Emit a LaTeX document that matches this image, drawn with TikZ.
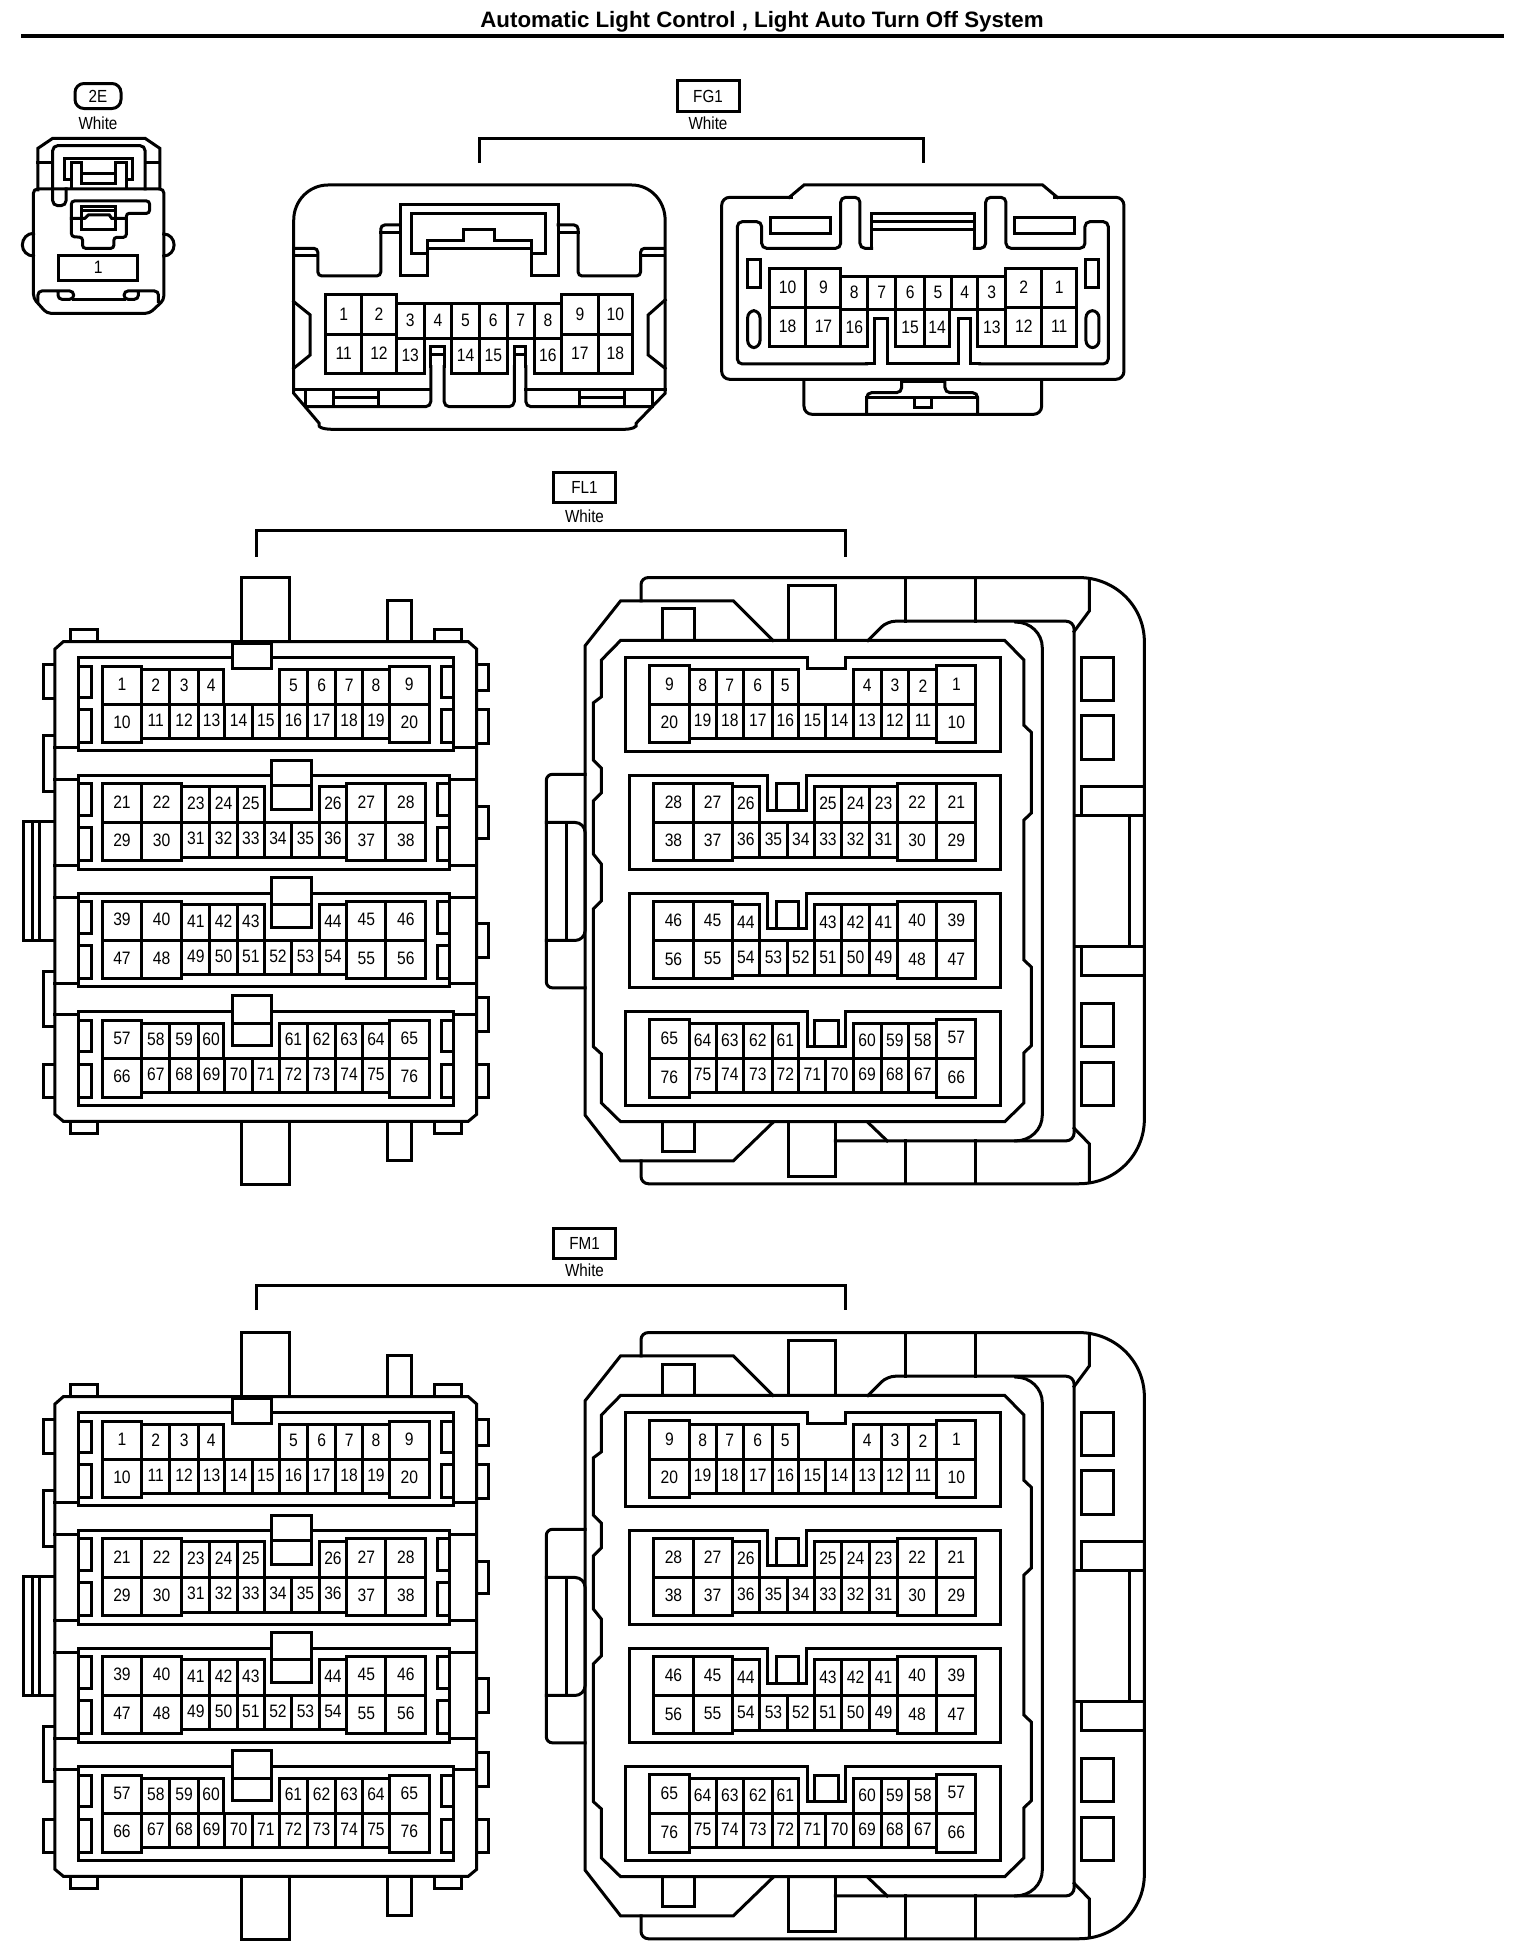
\documentclass[tikz,border=0pt]{standalone}
\usepackage{fontspec}
\setmainfont[FakeStretch=0.87]{Liberation Sans}
\newfontfamily\titlefont{Liberation Sans}
\usetikzlibrary{positioning}

\tikzset{
  wire/.style={line width=3pt, black, line cap=rect},
  pinnum/.style={font=\fontsize{18}{18}\selectfont, inner sep=0pt, black, yshift=1pt},
  tagtext/.style={font=\fontsize{17.5}{18}\selectfont, inner sep=0pt, black},
  tagbox/.style={draw, line width=3pt, tagtext, minimum width=62pt, minimum height=30pt},
}

% one numbered cavity
\newcommand\pinbox[5]{\draw[wire] (#1,#3) rectangle (#2,#4) node[pinnum, midway] (p#5) {#5};}

% connector seen from the wire side
\newcommand\leftconn[2]{
\begin{scope}[name prefix=#1-, yshift=-#2pt, x=0.3333pt, y=-0.4082pt, wire]
  \draw (213,200) -- (213,170) -- (293,170) -- (293,200);
  \draw (1303,200) -- (1303,170) -- (1385,170) -- (1385,200);
  \draw (213,1375) -- (213,1405) -- (293,1405) -- (293,1375);
  \draw (1303,1375) -- (1303,1405) -- (1385,1405) -- (1385,1375);
  \draw (725,200) -- (725,43) -- (870,43) -- (870,200);
  \draw (1163,200) -- (1163,100) -- (1236,100) -- (1236,200);
  \draw (725,1375) -- (725,1530) -- (870,1530) -- (870,1375);
  \draw (1163,1375) -- (1163,1472) -- (1236,1472) -- (1236,1375);
  \foreach \a/\b in {257/340,430/567,1008/1143,1235/1317}{
    \draw (165,\a) -- (130,\a) -- (130,\b) -- (165,\b);
  }
  \foreach \a/\b in {257/320,367/450,603/683,890/973,1072/1155,1235/1317}{
    \draw (1430,\a) -- (1467,\a) -- (1467,\b) -- (1430,\b);
  }
  \draw (165,640) -- (70,640) -- (70,932) -- (165,932);
  \draw (97,640) -- (97,932);
  \draw (120,640) -- (120,932);
  \draw (190,200) -- (1405,200) -- (1430,218) -- (1430,1358) -- (1405,1375) -- (190,1375) -- (165,1358) -- (165,218) -- cycle;
  \foreach \y/\u in {460/1362,537/1350,748/1350,826/1350,1037/1350,1113/1362}{
    \draw (165,\y) -- (237,\y);
    \draw (\u,\y) -- (1430,\y);
  }
  % the four frames
  \draw (237,240) rectangle (1362,467);
  \draw (237,528) rectangle (1350,757);
  \draw (237,817) rectangle (1350,1046);
  \draw (237,1107) rectangle (1362,1336);
  \draw[fill=white] (697,205) rectangle (815,265);
  \draw[fill=white] (815,490) rectangle (935,612);
  \draw (815,552) -- (935,552);
  \draw[fill=white] (815,778) rectangle (935,900);
  \draw (815,845) -- (935,845);
  \draw[fill=white] (697,1067) rectangle (815,1190);
  \draw (697,1135) -- (815,1135);
  % side slots
  \foreach \a/\b in {260/337,367/448,1127/1205,1235/1316}{
    \draw (240,\a) -- (275,\a) -- (275,\b) -- (240,\b);
    \draw (1360,\a) -- (1325,\a) -- (1325,\b) -- (1360,\b);
  }
  \foreach \a/\b in {548/627,655/737,836/915,945/1026}{
    \draw (240,\a) -- (275,\a) -- (275,\b) -- (240,\b);
    \draw (1348,\a) -- (1312,\a) -- (1312,\b) -- (1348,\b);
  }
  % row one
  \foreach \a/\b/\q in {307/425/1,1168/1288/9}{\pinbox{\a}{\b}{260}{353}{\q}}
  \foreach \a/\b/\q in {307/425/10,1168/1288/20}{\pinbox{\a}{\b}{353}{448}{\q}}
  \foreach \a/\b/\q in {425/510/2,510/595/3,595/672/4,838/923/5,923/1007/6,1007/1088/7,1088/1168/8}{\pinbox{\a}{\b}{267}{353}{\q}}
  \foreach \a/\b/\q in {425/510/11,510/595/12,595/675/13,675/757/14,757/838/15,838/923/16,923/1007/17,1007/1088/18,1088/1168/19}{\pinbox{\a}{\b}{353}{437}{\q}}
  % row two
  \foreach \a/\b/\q in {307/425/21,425/545/22,1040/1158/27,1158/1277/28}{\pinbox{\a}{\b}{548}{642}{\q}}
  \foreach \a/\b/\q in {307/425/29,425/545/30,1040/1158/37,1158/1277/38}{\pinbox{\a}{\b}{642}{737}{\q}}
  \foreach \a/\b/\q in {545/630/23,630/712/24,712/793/25,958/1040/26}{\pinbox{\a}{\b}{555}{642}{\q}}
  \foreach \a/\b/\q in {545/630/31,630/712/32,712/793/33,793/875/34,875/958/35,958/1040/36}{\pinbox{\a}{\b}{642}{728}{\q}}
  % row three
  \foreach \a/\b/\q in {307/425/39,425/545/40,1040/1158/45,1158/1277/46}{\pinbox{\a}{\b}{836}{931}{\q}}
  \foreach \a/\b/\q in {307/425/47,425/545/48,1040/1158/55,1158/1277/56}{\pinbox{\a}{\b}{931}{1025}{\q}}
  \foreach \a/\b/\q in {545/630/41,630/712/42,712/793/43,958/1040/44}{\pinbox{\a}{\b}{845}{931}{\q}}
  \foreach \a/\b/\q in {545/630/49,630/712/50,712/793/51,793/875/52,875/958/53,958/1040/54}{\pinbox{\a}{\b}{931}{1015}{\q}}
  % row four
  \foreach \a/\b/\q in {307/425/57,1168/1288/65}{\pinbox{\a}{\b}{1127}{1220}{\q}}
  \foreach \a/\b/\q in {307/425/66,1168/1288/76}{\pinbox{\a}{\b}{1220}{1316}{\q}}
  \foreach \a/\b/\q in {425/510/58,510/595/59,595/672/60,838/923/61,923/1007/62,1007/1088/63,1088/1168/64}{\pinbox{\a}{\b}{1135}{1220}{\q}}
  \foreach \a/\b/\q in {425/510/67,510/595/68,595/675/69,675/757/70,757/838/71,838/923/72,923/1007/73,1007/1088/74,1088/1168/75}{\pinbox{\a}{\b}{1220}{1305}{\q}}
\end{scope}
}

% same connector seen from the mating side
\newcommand\rightconn[2]{
\begin{scope}[name prefix=#1-, xshift=530pt, yshift=-#2pt, x=0.4082pt, y=-0.4082pt, wire]
  % back shell
  \draw (272,100) -- (272,60) to[out=90,in=180] (290,43) -- (1345,43) to[out=0,in=90] (1505,200) -- (1505,1370) to[out=-90,in=0] (1345,1528) -- (290,1528) to[out=180,in=-90] (272,1510) -- (272,1472);
  \foreach \x in {920,1092}{
    \draw (\x,43) -- (\x,150);
    \draw (\x,1423) -- (\x,1528);
  }
  \draw (1370,48) -- (1370,125) -- (1333,175);
  \draw (1370,1523) -- (1370,1430) -- (1333,1392);
  % middle shell
  \draw[rounded corners=8pt] (828,197) -- (875,150) -- (1333,150) -- (1333,1423) -- (748,1423);
  \draw (828,1378) -- (875,1423);
  \draw (1190,152) to[out=0,in=90] (1255,215) -- (1255,1360) to[out=-90,in=0] (1190,1423);
  % front shell
  \draw (595,197) -- (498,100) -- (222,100) -- (135,210) -- (135,1360) -- (222,1472) -- (498,1472) -- (595,1378);
  \draw (325,197) -- (325,120) -- (403,120) -- (403,197);
  \draw (633,197) -- (633,62) -- (748,62) -- (748,197);
  \draw (325,1378) -- (325,1450) -- (403,1450) -- (403,1378);
  \draw (633,1378) -- (633,1510) -- (748,1510) -- (748,1378);
  \draw (222,197) -- (1163,197) -- (1210,245) -- (1210,405) -- (1228,422) -- (1228,620) -- (1210,637) -- (1210,980) -- (1228,997) -- (1228,1190) -- (1210,1207) -- (1210,1330) -- (1163,1376) -- (222,1376) -- (175,1330) -- (175,1210) -- (155,1192) -- (155,855) -- (175,835) -- (175,745) -- (155,720) -- (155,590) -- (175,570) -- (175,510) -- (155,490) -- (155,350) -- (175,335) -- (175,245) -- cycle;
  % side latch
  \draw[rounded corners=6pt] (135,525) -- (40,525) -- (40,1048) -- (135,1048);
  \draw[rounded corners=10pt] (40,643) -- (135,643) -- (135,932) -- (40,932);
  \draw (90,643) -- (90,932);
  % right hand side
  \foreach \a/\b in {238/345,380/488,1087/1192,1230/1336}{
    \draw (1350,\a) rectangle (1430,\b);
  }
  \draw (1350,625) -- (1350,555) -- (1505,555);
  \draw (1333,625) -- (1505,625);
  \draw (1468,625) -- (1468,948);
  \draw (1333,948) -- (1505,948);
  \draw (1350,948) -- (1350,1018) -- (1505,1018);
  % frames
  \draw (680,240) -- (233,240) -- (233,468) -- (1152,468) -- (1152,240) -- (772,240) -- (772,265) -- (680,265) -- cycle;
  \draw (583,527) -- (243,527) -- (243,758) -- (1152,758) -- (1152,527) -- (677,527) -- (677,613) -- (583,613) -- cycle;
  \draw (605,613) -- (605,548) -- (658,548) -- (658,613);
  \draw (583,816) -- (243,816) -- (243,1047) -- (1152,1047) -- (1152,816) -- (677,816) -- (677,902) -- (583,902) -- cycle;
  \draw (605,902) -- (605,837) -- (658,837) -- (658,902);
  \draw (680,1106) -- (233,1106) -- (233,1337) -- (1152,1337) -- (1152,1106) -- (772,1106) -- (772,1192) -- (680,1192) -- cycle;
  \draw (697,1192) -- (697,1127) -- (755,1127) -- (755,1192);
  % row one
  \foreach \a/\b/\q in {293/390/9,997/1092/1}{\pinbox{\a}{\b}{258}{354}{\q}}
  \foreach \a/\b/\q in {293/390/20,997/1092/10}{\pinbox{\a}{\b}{354}{448}{\q}}
  \foreach \a/\b/\q in {390/456/8,456/523/7,523/593/6,593/658/5,792/860/4,860/928/3,928/997/2}{\pinbox{\a}{\b}{267}{354}{\q}}
  \foreach \a/\b/\q in {390/456/19,456/523/18,523/593/17,593/658/16,658/725/15,725/792/14,792/860/13,860/928/12,928/997/11}{\pinbox{\a}{\b}{354}{437}{\q}}
  % row two
  \foreach \a/\b/\q in {303/400/28,400/495/27,900/997/22,997/1092/21}{\pinbox{\a}{\b}{548}{643}{\q}}
  \foreach \a/\b/\q in {303/400/38,400/495/37,900/997/30,997/1092/29}{\pinbox{\a}{\b}{643}{737}{\q}}
  \foreach \a/\b/\q in {495/563/26,697/763/25,763/832/24,832/900/23}{\pinbox{\a}{\b}{555}{643}{\q}}
  \foreach \a/\b/\q in {495/563/36,563/630/35,630/697/34,697/763/33,763/832/32,832/900/31}{\pinbox{\a}{\b}{643}{728}{\q}}
  % row three
  \foreach \a/\b/\q in {303/400/46,400/495/45,900/997/40,997/1092/39}{\pinbox{\a}{\b}{837}{933}{\q}}
  \foreach \a/\b/\q in {303/400/56,400/495/55,900/997/48,997/1092/47}{\pinbox{\a}{\b}{933}{1026}{\q}}
  \foreach \a/\b/\q in {495/563/44,697/763/43,763/832/42,832/900/41}{\pinbox{\a}{\b}{845}{933}{\q}}
  \foreach \a/\b/\q in {495/563/54,563/630/53,630/697/52,697/763/51,763/832/50,832/900/49}{\pinbox{\a}{\b}{933}{1017}{\q}}
  % row four
  \foreach \a/\b/\q in {293/390/65,997/1092/57}{\pinbox{\a}{\b}{1125}{1221}{\q}}
  \foreach \a/\b/\q in {293/390/76,997/1092/66}{\pinbox{\a}{\b}{1221}{1316}{\q}}
  \foreach \a/\b/\q in {390/456/64,456/523/63,523/593/62,593/658/61,792/860/60,860/928/59,928/997/58}{\pinbox{\a}{\b}{1135}{1221}{\q}}
  \foreach \a/\b/\q in {390/456/75,456/523/74,523/593/73,593/658/72,658/725/71,725/792/70,792/860/69,860/928/68,928/997/67}{\pinbox{\a}{\b}{1221}{1305}{\q}}
\end{scope}
}

\begin{document}
\begin{tikzpicture}[x=1pt, y=-1pt]
  \useasboundingbox (0,0) rectangle (1536,1960);

  \node[font=\titlefont\bfseries\fontsize{22.3}{22}\selectfont, inner sep=0pt] (title) at (762,21.5) {Automatic Light Control , Light Auto Turn Off System};
  \coordinate (ruleL) at (21,35.5);
  \coordinate (ruleR) at (1504,35.5);
  \draw[line width=4pt] (ruleL) -- (ruleR);

  % connector 2E
  \node[draw, line width=3pt, rounded corners=9pt, tagtext, minimum width=46pt, minimum height=25pt] (tagE) at (98,96) {2E};
  \node[tagtext] (colE) at (98,123) {White};
  \begin{scope}[name prefix=e-, x=0.4464pt, y=-0.3333pt, wire]
    \draw (85,570) -- (85,445) -- (118,415) -- (325,415) -- (358,445) -- (358,567);
    \draw (85,487) -- (118,487);
    \draw (325,487) -- (358,487);
    \draw[rounded corners=5pt] (148,567) -- (148,617) -- (118,617) -- (118,437) -- (325,437) -- (325,567);
    \draw (160,540) -- (145,540) -- (145,475) -- (297,475) -- (297,540) -- (283,540);
    \draw (160,565) -- (160,487) -- (183,487) -- (183,550) -- (258,550) -- (258,487) -- (283,487) -- (283,565);
    \draw (183,520) -- (258,520);
    \draw[rounded corners=4pt] (75,567) -- (367,567) -- (367,900) -- (335,940) -- (105,940) -- (75,895) -- cycle;
    \draw[rounded corners=3pt] (160,710) -- (160,603) -- (335,603) -- (335,640) -- (283,640) -- (283,712) -- (255,712) -- (255,745) -- (185,745) -- (185,712) -- cycle;
    \draw (183,620) rectangle (258,690);
    \draw (183,632) -- (258,632);
    \draw (160,655) -- (190,655) -- (198,645) -- (245,645) -- (250,655) -- (283,655);
    \draw (75,700) to[out=180,in=90] (50,735) to[out=-90,in=180] (75,768);
    \draw (367,702) to[out=0,in=90] (390,735) to[out=-90,in=0] (367,768);
    \draw (132,768) rectangle (308,843) node[pinnum, midway] (p1) {1};
    \draw[rounded corners=4pt] (85,905) -- (85,873) -- (165,873) -- (165,898) -- (130,898) -- (130,873);
    \draw[rounded corners=4pt] (355,905) -- (355,873) -- (278,873) -- (278,898) -- (310,898) -- (310,873);
    \draw (165,898) -- (278,898);
  \end{scope}

  % connector FG1
  \node[tagbox, minimum height=31pt] (tagG) at (708,96) {FG1};
  \node[tagtext] (colG) at (708,123) {White};
  \coordinate (brGa) at (479,163);
  \coordinate (brGb) at (923,163);
  \draw[wire, line cap=butt] (brGa) -- (479,138) -- (923,138) -- (brGb);

  \begin{scope}[name prefix=gl-, x=0.4464pt, y=-0.3333pt, wire]
    \draw (658,660) to[out=90,in=180] (735,555) -- (1415,555) to[out=0,in=90] (1490,660) -- (1490,1180) -- (1425,1270) to[out=-60,in=0] (1400,1288) -- (745,1288) to[out=180,in=-120] (715,1270) -- (658,1180) -- cycle;
    \draw (658,1168) -- (965,1168);
    \draw (1178,1168) -- (1490,1168);
    \draw[rounded corners=5pt] (690,1220) -- (965,1220) -- (965,1100);
    \draw (965,1100) -- (965,1040) -- (995,1040) -- (995,1100);
    \draw[rounded corners=5pt] (995,1100) -- (995,1220) -- (1152,1220) -- (1152,1100);
    \draw (1152,1100) -- (1152,1040) -- (1178,1040) -- (1178,1100);
    \draw[rounded corners=5pt] (1178,1100) -- (1178,1220) -- (1460,1220);
    \draw (965,1065) -- (995,1065);
    \draw (1152,1065) -- (1178,1065);
    \foreach \x in {685,748,848,1298,1400,1462}{
      \draw (\x,1170) -- (\x,1220);
    }
    \draw (748,1192) -- (848,1192);
    \draw (1298,1192) -- (1400,1192);
    % hood
    \draw (897,675) -- (897,615) -- (1250,615) -- (1250,828) -- (1190,828) -- (1190,745) -- (958,745) -- (958,828) -- (897,828) -- cycle;
    \draw (958,760) -- (922,760) -- (922,640) -- (1223,640) -- (1223,760) -- (1190,760) -- (1190,722) -- (1108,722) -- (1108,688) -- (1038,688) -- (1038,722) -- (958,722) -- cycle;
    \draw[rounded corners=4pt] (662,745) -- (712,745) -- (712,828) -- (853,828) -- (853,675) -- (897,675);
    \draw (853,697) -- (897,697);
    \draw (662,768) -- (712,768);
    \draw[rounded corners=4pt] (1250,675) -- (1295,675) -- (1295,828) -- (1435,828) -- (1435,745) -- (1485,745);
    \draw (1250,697) -- (1295,697);
    \draw (1435,768) -- (1485,768);
    \draw (658,905) -- (695,945) -- (695,1065) -- (658,1105);
    \draw (1490,900) -- (1452,945) -- (1452,1065) -- (1490,1105);
    % cavities
    \foreach \a/\b/\q in {730/810/1,810/888/2,1258/1340/9,1340/1417/10}{\pinbox{\a}{\b}{885}{1005}{\q}}
    \foreach \a/\b/\q in {730/810/11,810/888/12,1258/1340/17,1340/1417/18}{\pinbox{\a}{\b}{1005}{1122}{\q}}
    \foreach \a/\b/\q in {888/950/3,950/1012/4,1012/1074/5,1074/1136/6,1136/1197/7,1197/1258/8}{\pinbox{\a}{\b}{912}{1017}{\q}}
    \foreach \a/\b/\q in {888/950/13,1012/1074/14,1074/1136/15,1197/1258/16}{\pinbox{\a}{\b}{1017}{1122}{\q}}
  \end{scope}

  \begin{scope}[name prefix=gr-, xshift=680pt, yshift=-70pt, x=0.3333pt, y=-0.3333pt, wire]
    \draw[rounded corners=8pt] (372,930) -- (372,1033) -- (1085,1033) -- (1085,930);
    \draw[rounded corners=8pt] (125,382) -- (1332,382) -- (1332,928) -- (125,928) -- cycle;
    \draw[white, line width=4pt, line cap=butt] (340,382) -- (1120,382);
    \draw (328,382) -- (372,345) -- (1088,345) -- (1132,382);
    \draw[rounded corners=5pt] (560,882) -- (172,882) -- (172,455) -- (245,455) -- (245,535) -- (482,535) -- (482,382) -- (540,382) -- (540,535) -- (575,535);
    \draw (575,535) -- (575,432) -- (883,432) -- (883,535);
    \draw[rounded corners=5pt] (883,535) -- (917,535) -- (917,382) -- (978,382) -- (978,535) -- (1215,535) -- (1215,455) -- (1285,455) -- (1285,882) -- (900,882);
    \draw (900,882) -- (873,882) -- (873,747) -- (835,747) -- (835,882) -- (623,882) -- (623,747) -- (585,747) -- (585,882) -- (560,882);
    \draw (575,455) -- (883,455);
    \draw (575,478) -- (883,478);
    \draw (273,442) rectangle (453,490);
    \draw (1005,442) rectangle (1185,490);
    \draw (203,570) rectangle (240,653);
    \draw (1218,570) rectangle (1257,653);
    \draw[rounded corners=7pt] (203,722) rectangle (240,833);
    \draw[rounded corners=7pt] (1218,722) rectangle (1257,833);
    \draw[rounded corners=5pt] (560,1033) -- (560,968) -- (665,968) -- (665,930);
    \draw[rounded corners=5pt] (795,930) -- (795,968) -- (893,968) -- (893,1033);
    \draw (560,982) -- (893,982);
    \draw (668,935) -- (795,935);
    \draw (705,982) rectangle (755,1012);
    % cavities
    \foreach \a/\b/\q in {268/378/10,378/483/9,978/1085/2,1085/1190/1}{\pinbox{\a}{\b}{595}{713}{\q}}
    \foreach \a/\b/\q in {268/378/18,378/483/17,978/1085/12,1085/1190/11}{\pinbox{\a}{\b}{713}{830}{\q}}
    \foreach \a/\b/\q in {483/563/8,563/648/7,648/733/6,733/815/5,815/893/4,893/978/3}{\pinbox{\a}{\b}{620}{720}{\q}}
    \foreach \a/\b/\q in {483/563/16,648/733/15,733/810/14,893/978/13}{\pinbox{\a}{\b}{720}{830}{\q}}
  \end{scope}

  % connector FL1
  \node[tagbox] (tagL) at (584.5,487.5) {FL1};
  \node[tagtext] (colL) at (584.5,516.5) {White};
  \coordinate (brLa) at (256,556.5);
  \coordinate (brLb) at (845.5,556.5);
  \draw[wire, line cap=butt] (brLa) -- (256,530.5) -- (845.5,530.5) -- (brLb);
  \leftconn{fll}{560}
  \rightconn{flr}{560}

  % connector FM1
  \node[tagbox] (tagM) at (584.5,1243) {FM1};
  \node[tagtext] (colM) at (584.5,1270.5) {White};
  \coordinate (brMa) at (256,1310);
  \coordinate (brMb) at (845.5,1310);
  \draw[wire, line cap=butt] (brMa) -- (256,1285) -- (845.5,1285) -- (brMb);
  \leftconn{fml}{1315}
  \rightconn{fmr}{1315}
\end{tikzpicture}
\end{document}
